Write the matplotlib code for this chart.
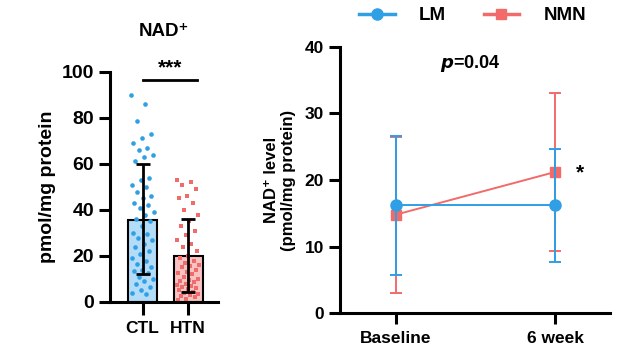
import matplotlib
matplotlib.use('Agg')
import numpy as np
import matplotlib.pyplot as plt
from matplotlib.lines import Line2D

plt.rcParams['font.family'] = ['Liberation Sans', 'DejaVu Sans']
plt.rcParams['font.weight'] = 'bold'
plt.rcParams['axes.labelweight'] = 'bold'
plt.rcParams['axes.titleweight'] = 'bold'

# left panel: individual NAD+ values (pmol/mg protein)
groups = ['CTL', 'HTN']
ctl_vals = [90, 86, 78.5, 73, 71.5, 69, 67, 66, 64, 63, 61.5, 54, 53, 51, 50, 48,
            46, 45, 43, 42, 41, 39, 38, 36, 35, 33, 30, 29.5, 28, 27, 25, 24, 22,
            21, 19, 18, 16.5, 15, 14, 13.5, 12.5, 11, 10, 9, 8, 6.5, 5, 4, 3.5]
htn_vals = [53, 52, 51, 49, 46, 45, 43, 40, 38, 35, 33, 31, 29, 27, 25, 24, 22,
            20, 19, 18, 17, 16, 15.5, 15, 14, 13, 12.5, 12, 11, 10, 9.5, 9, 8.5,
            8, 7.5, 7, 6.5, 6, 5.5, 5, 4.5, 4, 3.5, 3, 2.5, 2, 1.5, 1]
bar_means = [35.5, 20]
bar_lo = [12, 4.5]
bar_hi = [60, 36]

# right panel: NAD+ level over time
timepoints = ['Baseline', '6 week']
lm_mean = [16.2, 16.2]
lm_sd = [10.4, 8.5]
nmn_mean = [14.8, 21.2]
nmn_sd = [11.7, 11.8]

BLUE = '#2f9fe6'
RED = '#f26b6b'
BLUE_FILL = '#b3dcf8'
RED_FILL = '#f9c3c3'


def spread(n, width=0.5):
    # deterministic jitter using golden-ratio steps, fills the bar evenly
    k = np.arange(n)
    return ((k * 0.618034) % 1.0 - 0.5) * width


fig = plt.figure(figsize=(6.3, 3.53), dpi=100)

# ---------- left panel ----------
ax1 = fig.add_axes([0.1746, 0.1445, 0.1714, 0.6516])
x = np.arange(len(groups))
ax1.bar(x, bar_means, width=0.64, color=[BLUE_FILL, RED_FILL],
        edgecolor='black', linewidth=1.5, zorder=1)
for xi, vals, col in [(0, ctl_vals, BLUE), (1, htn_vals, RED)]:
    v = np.array(vals)
    ax1.scatter(xi + spread(len(v)), v, s=11, color=col,
                marker='o' if xi == 0 else 's', linewidths=0, zorder=2)
yerr = [np.array(bar_means) - np.array(bar_lo), np.array(bar_hi) - np.array(bar_means)]
ax1.errorbar(x, bar_means, yerr=yerr, fmt='none', ecolor='black', elinewidth=2,
             capsize=5, capthick=2, zorder=3)
ax1.plot([0, 1.19], [96.5, 96.5], color='black', lw=2, clip_on=False)
ax1.text(0.6, 97.5, '***', ha='center', va='bottom', fontsize=15)
ax1.set_xlim(-0.72, 1.66)
ax1.set_ylim(0, 100)
ax1.set_yticks([0, 20, 40, 60, 80, 100])
ax1.set_xticks(x)
ax1.set_xticklabels(groups, fontsize=12.5)
ax1.tick_params(axis='y', labelsize=14, length=8, width=2.2)
ax1.tick_params(axis='x', length=9, width=2.2, pad=5)
ax1.set_ylabel('pmol/mg protein', fontsize=14, labelpad=4)
ax1.set_title('NAD\u207a', fontsize=13.5, pad=26)
for s in ['top', 'right']:
    ax1.spines[s].set_visible(False)
for s in ['left', 'bottom']:
    ax1.spines[s].set_linewidth(2.2)

# ---------- right panel ----------
ax2 = fig.add_axes([0.5397, 0.1124, 0.4286, 0.7553])
xt = np.arange(len(timepoints))
ax2.errorbar(xt, nmn_mean, yerr=nmn_sd, color=RED, lw=1.4, elinewidth=1.4,
             capsize=4, capthick=1.4, marker='s', markersize=7, zorder=2)
ax2.errorbar(xt, lm_mean, yerr=lm_sd, color=BLUE, lw=1.4, elinewidth=1.4,
             capsize=4, capthick=1.4, marker='o', markersize=8, zorder=3)
ax2.text(1.157, 21, '*', ha='center', va='center', fontsize=15)
ax2.text(0.466, 37.5, r'$\mathbfit{p}$=0.04', ha='center', va='center', fontsize=13)
ax2.set_xlim(-0.35, 1.345)
ax2.set_ylim(0, 40)
ax2.set_yticks([0, 10, 20, 30, 40])
ax2.set_xticks(xt)
ax2.set_xticklabels(timepoints, fontsize=12.5)
ax2.tick_params(axis='y', labelsize=12.5, length=8, width=2.2)
ax2.tick_params(axis='x', length=8, width=2.2, pad=5)
ax2.set_ylabel('NAD\u207a level\n(pmol/mg protein)', fontsize=12, labelpad=6)
for s in ['top', 'right']:
    ax2.spines[s].set_visible(False)
for s in ['left', 'bottom']:
    ax2.spines[s].set_linewidth(2.2)

handles = [Line2D([], [], color=BLUE, lw=2.5, marker='o', markersize=8),
           Line2D([], [], color=RED, lw=2.5, marker='s', markersize=7)]
fig.legend(handles, ['LM', 'NMN'], loc='center', bbox_to_anchor=(0.75, 0.955),
           ncol=2, frameon=False, fontsize=13.5, handlelength=1.9,
           columnspacing=2.0, handletextpad=1.3)

fig.savefig('out.png', dpi=100)
